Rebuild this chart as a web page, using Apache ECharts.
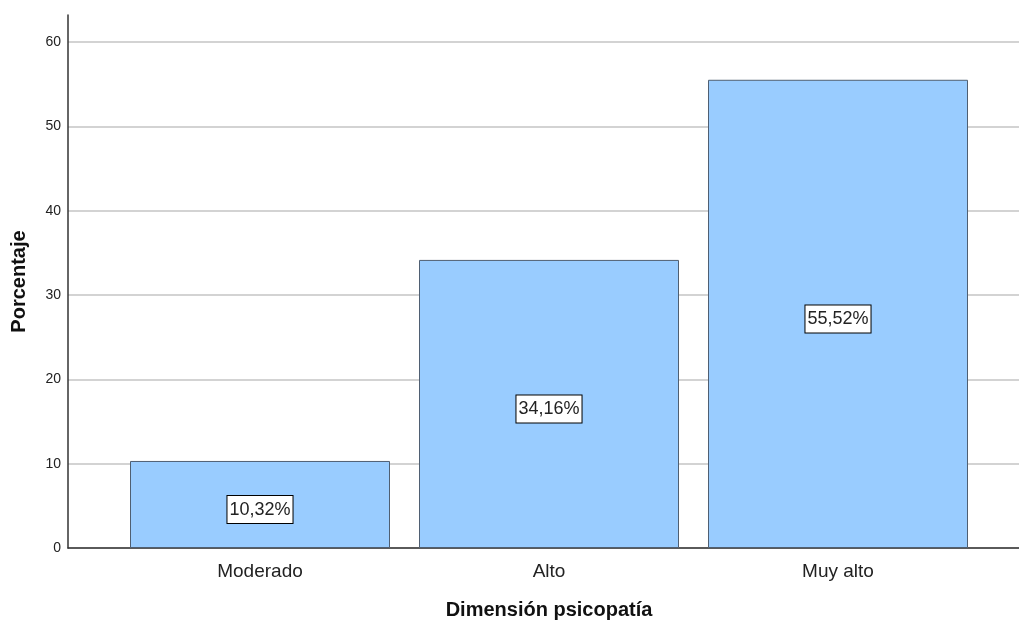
<!DOCTYPE html>
<html>
<head>
<meta charset="utf-8">
<script src="https://cdn.jsdelivr.net/npm/echarts@6/dist/echarts.min.js"></script>
<style>
  html, body { margin: 0; padding: 0; background: #fff; }
  #chart { width: 1019px; height: 622px; }
</style>
</head>
<body>
<div id="chart"></div>
<script>
// datos
const categorias = ['Moderado', 'Alto', 'Muy alto']
const porcentajes = [10.32, 34.16, 55.52]
const yMin = 0
const yMax = 63.2
const yPaso = 10

const font = 'Arial, "Liberation Sans", sans-serif'
const ejeColor = '#333'
const rejilla = '#c4c4c4'

const chart = echarts.init(document.getElementById('chart'))
chart.setOption({
  animation: false,
  grid: [
    // rejilla completa (eje Y + líneas)
    { left: 68, right: 0, top: 15, bottom: 74, outerBoundsMode: 'none' },
    // zona de las barras
    { left: 115.5, right: 36.5, top: 15, bottom: 74, outerBoundsMode: 'none' },
  ],
  xAxis: [
    {
      gridIndex: 0, type: 'value', min: 0, max: 1,
      axisLine: { show: true, lineStyle: { color: ejeColor, width: 1.5 } },
      axisTick: { show: false }, axisLabel: { show: false }, splitLine: { show: false },
    },
    {
      gridIndex: 1, type: 'category', data: categorias,
      axisLine: { show: false }, axisTick: { show: false },
      axisLabel: { color: '#222', fontSize: 19, fontFamily: font, margin: 14 },
      name: 'Dimensión psicopatía', nameLocation: 'middle', nameGap: 52,
      nameTextStyle: { color: '#111', fontSize: 20, fontWeight: 'bold', fontFamily: font },
    },
  ],
  yAxis: [
    {
      gridIndex: 0, type: 'value', min: yMin, max: yMax, interval: yPaso,
      axisLine: { show: true, lineStyle: { color: ejeColor, width: 1.5 } },
      axisTick: { show: false },
      axisLabel: {
        color: '#222', fontSize: 14, fontFamily: font, margin: 7,
        showMaxLabel: false,
        formatter: v => (v % yPaso === 0 ? String(v) : ''),
      },
      splitLine: { show: true, showMaxLine: false, lineStyle: { color: rejilla, width: 1.5 } },
      name: 'Porcentaje', nameLocation: 'middle', nameGap: 39, nameRotate: 90,
      nameTextStyle: { color: '#111', fontSize: 20, fontWeight: 'bold', fontFamily: font },
    },
    {
      gridIndex: 1, type: 'value', min: yMin, max: yMax, interval: yPaso, show: false,
      splitLine: { show: false },
    },
  ],
  series: [{
    type: 'bar',
    xAxisIndex: 1, yAxisIndex: 1,
    data: porcentajes,
    barWidth: 260,
    itemStyle: { color: '#99ccff', borderColor: '#4f5f72', borderWidth: 1 },
    label: {
      show: true, position: 'inside',
      // línea vacía arriba para bajar la caja unos píxeles
      formatter: p => '{s|}\n{v|' + p.value.toFixed(2).replace('.', ',') + '%}',
      rich: {
        s: { height: 10 },
        v: {
          color: '#222', fontSize: 18, fontFamily: font, lineHeight: 20,
          backgroundColor: '#fff', borderColor: '#000', borderWidth: 1,
          padding: [5, 2, 4, 2],
        },
      },
    },
  }],
})
</script>
</body>
</html>
